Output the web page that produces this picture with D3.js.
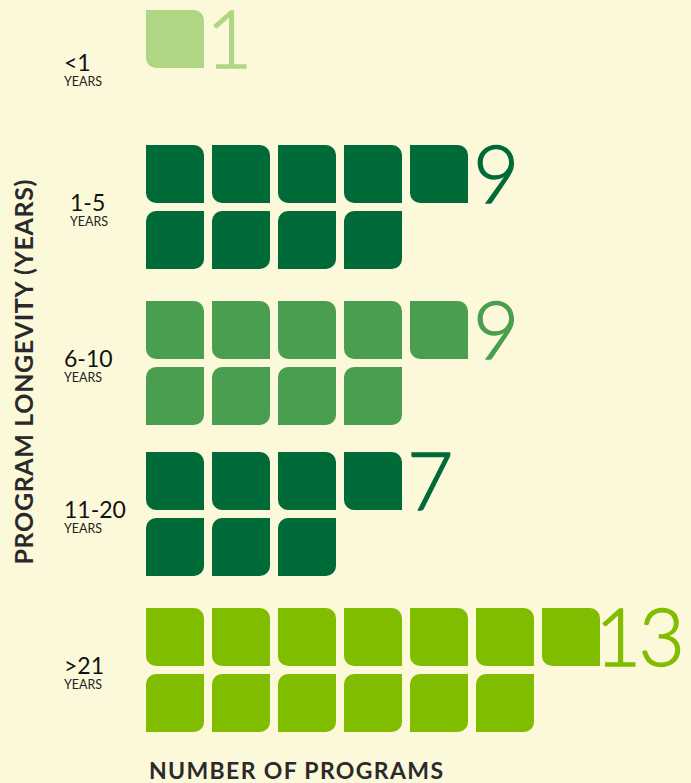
<!DOCTYPE html>
<html>
<head>
<meta charset="utf-8">
<script src="https://cdn.jsdelivr.net/npm/d3@7"></script>
<style>
  body { margin: 0; background: #fcf9da; }
  svg { display: block; }
  text { font-family: Lato, "Open Sans", sans-serif; }
</style>
</head>
<body>
<svg width="691" height="783"></svg>
<script>
// data
var categories = ["<1", "1-5", "6-10", "11-20", ">21"];
var counts = [1, 9, 9, 7, 13];
var colors = ["#afd683", "#006a38", "#4a9e4f", "#006a38", "#80bc00"];

var svg = d3.select("svg");

var tile = 58, r = 10;

// column index -> x
var xScale = d3.scaleLinear().domain([0, 7]).range([146, 146 + 66 * 7]);
// group -> top of its first row
var yScale = d3.scaleOrdinal().domain(categories).range([10, 145, 301, 452, 608]);
var rowStep = 66;

// rounded rect with chosen corners [tl, tr, br, bl]
function leaf(w, h, c) {
    var p = d3.path();
    p.moveTo(c[0], 0);
    p.lineTo(w - c[1], 0);
    if (c[1]) p.arcTo(w, 0, w, c[1], c[1]);
    p.lineTo(w, h - c[2]);
    if (c[2]) p.arcTo(w, h, w - c[2], h, c[2]);
    p.lineTo(c[3], h);
    if (c[3]) p.arcTo(0, h, 0, h - c[3], c[3]);
    p.lineTo(0, c[0]);
    if (c[0]) p.arcTo(0, 0, c[0], 0, c[0]);
    p.closePath();
    return p.toString();
}

// build one record per tile
var tiles = [];
categories.forEach(function(cat, gi) {
    var n = counts[gi];
    var top = Math.ceil(n / 2);
    for (var i = 0; i < n; i++) {
        var row = i < top ? 0 : 1;
        var col = row === 0 ? i : i - top;
        tiles.push({ cat: cat, row: row, col: col, color: colors[gi] });
    }
});

svg.selectAll("path.tile")
    .data(tiles)
    .enter()
    .append("path")
    .attr("class", "tile")
    .attr("transform", d => "translate(" + xScale(d.col) + "," + (yScale(d.cat) + d.row * rowStep) + ")")
    .attr("d", d => d.row === 0 ? leaf(tile, tile, [0, r, 0, r]) : leaf(tile, tile, [r, 0, r, 0]))
    .style("fill", d => d.color);

// count numbers next to the first row
svg.selectAll("text.count")
    .data(categories)
    .enter()
    .append("text")
    .attr("class", "count")
    .attr("x", (d, i) => xScale(Math.ceil(counts[i] / 2) - 1) + tile + (counts[i] > 9 ? -5 : counts[i] === 1 ? 2 : 5))
    .attr("y", d => yScale(d) + tile)
    .style("font-size", "80px")
    .style("font-weight", 300)
    .style("letter-spacing", "-3px")
    .style("fill", (d, i) => colors[i])
    .style("stroke", (d, i) => colors[i])
    .style("stroke-width", 1.3)
    .text((d, i) => counts[i]);

// category labels
var labels = svg.selectAll("g.label")
    .data(categories)
    .enter()
    .append("g")
    .attr("class", "label")
    .attr("transform", (d, i) => "translate(" + (i === 1 ? 70 : 64) + "," + (yScale(d) + (i === 0 ? 61 : 66)) + ")");

labels.append("text")
    .style("font-size", "23px")
    .style("fill", "#111")
    .text(d => d);

labels.append("text")
    .attr("y", 15)
    .style("font-size", "12.5px")
    .style("fill", "#222")
    .text("YEARS");

// axis titles
svg.append("text")
    .attr("transform", "translate(33,372) rotate(-90)")
    .attr("text-anchor", "middle")
    .attr("textLength", 385)
    .style("font-size", "25px")
    .style("font-weight", "bold")
    .style("fill", "#2a2a2a")
    .text("PROGRAM LONGEVITY (YEARS)");

svg.append("text")
    .attr("x", 149)
    .attr("y", 779)
    .attr("textLength", 294)
    .style("font-size", "23px")
    .style("font-weight", "bold")
    .style("fill", "#2a2a2a")
    .text("NUMBER OF PROGRAMS");
</script>
</body>
</html>
